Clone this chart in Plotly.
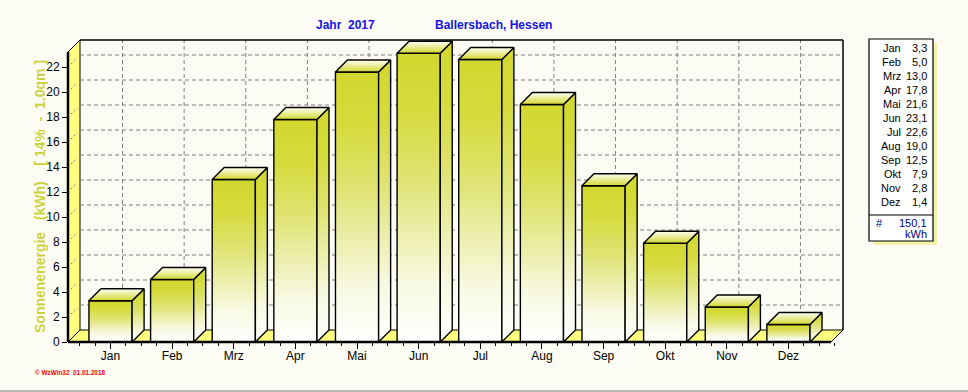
import plotly.graph_objects as go

# ---------------- data ----------------
months = ["Jan", "Feb", "Mrz", "Apr", "Mai", "Jun", "Jul", "Aug", "Sep", "Okt", "Nov", "Dez"]
energy_kwh = [3.3, 5.0, 13.0, 17.8, 21.6, 23.1, 22.6, 19.0, 12.5, 7.9, 2.8, 1.4]
total_kwh = 150.1
y_tick_values = [0, 2, 4, 6, 8, 10, 12, 14, 16, 18, 20, 22]
title_year = "Jahr  2017"
title_place = "Ballersbach, Hessen"
y_title = "Sonnenenergie   (kWh)    [ 14%  -  1.0qm ]"
footer_text = "\u00a9 WzWin32  01.01.2018"
unit_text = "kWh"

# ---------------- geometry / style ----------------
W, H = 968, 392
L, R, T, B = 68, 123, 38, 50
PXU, PYU = 61.63, 12.5          # pixels per unit on x / y
X0 = -0.69                      # front-left edge (data units)
XR = [X0, X0 + (W - L - R) / PXU]
YR = [0, (H - T - B) / PYU]
DX, DY = 12 / PXU, 12 / PYU     # 3D depth offset
XF = X0 + 763 / PXU             # front right edge
X1 = XF + DX                    # back right edge
YF = 290 / PYU                  # front top
Y1 = YF + DY                    # back top
HW = 0.35                       # half bar width

BG = "#FCFCF4"
BAR = "#D2D82E"
WALL = "#FFFF80"
GRID = "#7F7F7F"
FONT = "Liberation Sans, Arial, sans-serif"


def pxp(x):  # data x -> paper
    return (x - XR[0]) / (XR[1] - XR[0])


def pyp(y):  # data y -> paper
    return (y - YR[0]) / (YR[1] - YR[0])


def ppx(p):  # pixel x -> paper
    return (p - L) / (W - L - R)


def ppy(p):  # pixel y -> paper
    return (H - B - p) / (H - T - B)


fig = go.Figure()

front_scale = [[0, "#FFFFFF"], [0.2, "#F8F9E2"], [0.55, "#E0E477"], [0.8, "#D5DB3C"], [1, BAR]]
top_scale = [[0, BAR], [1, "#FFFFF6"]]

for i, v in enumerate(energy_kwh):
    common = dict(mode="lines", fill="toself", line=dict(color="black", width=1.4),
                  hoverinfo="skip", showlegend=False)
    # front face
    fig.add_trace(go.Scatter(x=[i - HW, i + HW, i + HW, i - HW, i - HW], y=[0, 0, v, v, 0],
                             fillgradient=dict(type="vertical", colorscale=front_scale), **common))
    # side face
    fig.add_trace(go.Scatter(x=[i + HW, i + HW + DX, i + HW + DX, i + HW, i + HW],
                             y=[0, DY, v + DY, v, 0],
                             fillgradient=dict(type="vertical", colorscale=front_scale), **common))
    # top face
    fig.add_trace(go.Scatter(x=[i - HW, i + HW, i + HW + DX, i - HW + DX, i - HW],
                             y=[v, v, v + DY, v + DY, v],
                             fillgradient=dict(type="vertical", colorscale=top_scale), **common))

shapes = []
# floor
shapes.append(dict(type="path", xref="x", yref="y", layer="below",
                   path=f"M {X0},0 L {XF},0 L {X1},{DY} L {X0 + DX},{DY} Z",
                   fillcolor=WALL, line=dict(color="black", width=1)))
# left wall
shapes.append(dict(type="path", xref="x", yref="y", layer="below",
                   path=f"M {X0},0 L {X0},{YF} L {X0 + DX},{Y1} L {X0 + DX},{DY} Z",
                   fillcolor=WALL, line=dict(color="black", width=1)))
# horizontal grid on back wall
for v in y_tick_values[1:]:
    shapes.append(dict(type="line", xref="x", yref="y", layer="below",
                       x0=X0 + DX, x1=X1, y0=v + DY, y1=v + DY,
                       line=dict(color=GRID, width=1, dash="4px,3px")))
    shapes.append(dict(type="line", xref="x", yref="y", layer="below",
                       x0=X0 + DX * 0.25, x1=X0 + DX * 0.75, y0=v + DY * 0.25, y1=v + DY * 0.75,
                       line=dict(color=GRID, width=1, dash="2px,2px")))
# vertical grid on back wall
for i in range(len(months)):
    shapes.append(dict(type="line", xref="x", yref="y", layer="below",
                       x0=i + DX, x1=i + DX, y0=DY, y1=Y1,
                       line=dict(color=GRID, width=1, dash="4px,3px")))
# back wall frame (paper refs so edges are not clipped)
shapes.append(dict(type="line", xref="paper", yref="paper", layer="above",
                   x0=pxp(X0 + DX), x1=pxp(X1), y0=pyp(Y1), y1=pyp(Y1),
                   line=dict(color="black", width=1.5)))
shapes.append(dict(type="line", xref="paper", yref="paper", layer="above",
                   x0=pxp(X1), x1=pxp(X1), y0=pyp(DY), y1=pyp(Y1),
                   line=dict(color="black", width=1.5)))
shapes.append(dict(type="line", xref="paper", yref="paper", layer="above",
                   x0=pxp(X0), x1=pxp(X0 + DX), y0=pyp(YF), y1=pyp(Y1),
                   line=dict(color="black", width=1)))
# front axes
shapes.append(dict(type="line", xref="paper", yref="paper", layer="above",
                   x0=pxp(X0), x1=pxp(X0), y0=pyp(0), y1=pyp(YF),
                   line=dict(color="black", width=2.5)))
shapes.append(dict(type="line", xref="paper", yref="paper", layer="above",
                   x0=pxp(X0), x1=pxp(XF), y0=pyp(0), y1=pyp(0),
                   line=dict(color="black", width=2.5)))

# legend box
LX0, LX1, LY0, LY1 = 869, 933, 39, 241
shapes.append(dict(type="rect", xref="paper", yref="paper", layer="above",
                   x0=ppx(LX0 + 4), x1=ppx(LX1 + 4), y0=ppy(LY1 + 4), y1=ppy(LY0 + 4),
                   fillcolor="#F2F2A8", line=dict(width=0)))
shapes.append(dict(type="rect", xref="paper", yref="paper", layer="above",
                   x0=ppx(LX0), x1=ppx(LX1), y0=ppy(LY1), y1=ppy(LY0),
                   fillcolor="white", line=dict(color="black", width=1.2)))
shapes.append(dict(type="line", xref="paper", yref="paper", layer="above",
                   x0=ppx(LX0), x1=ppx(LX1), y0=ppy(215), y1=ppy(215),
                   line=dict(color="black", width=1.2)))
# bottom border line
shapes.append(dict(type="line", xref="paper", yref="paper", layer="above",
                   x0=ppx(0), x1=ppx(W), y0=ppy(391), y1=ppy(391),
                   line=dict(color="#A0A0A0", width=1.5)))

annotations = []


def ann(text, x, y, xanchor="center", size=11, color="black", bold=False, angle=0):
    annotations.append(dict(text=f"<b>{text}</b>" if bold else text, x=ppx(x), y=ppy(y),
                            xref="paper", yref="paper", showarrow=False, xanchor=xanchor,
                            yanchor="middle", textangle=angle,
                            font=dict(family=FONT, size=size, color=color)))


ann(title_year, 345, 25, size=12, color="#1414E6", bold=True)
ann(title_place, 493, 25, size=12, color="#1414E6", bold=True)
ann(y_title, 40, 197, size=14, color="#CDD23A", bold=True, angle=-90)
ann(footer_text, 33, 372, xanchor="left", size=6.4, color="#FF0000", bold=True)

for k, (m, v) in enumerate(zip(months, energy_kwh)):
    yy = 48 + 14 * k
    ann(m, 903, yy, xanchor="right", size=11)
    ann(f"{v:.1f}".replace(".", ","), 929, yy, xanchor="right", size=11)
ann("#", 879, 223, size=11, color="#000080")
ann(f"{total_kwh:.1f}".replace(".", ","), 929, 223, xanchor="right", size=11, color="#000080")
ann(unit_text, 929, 234, xanchor="right", size=11, color="#000080")

fig.update_layout(
    width=W, height=H,
    margin=dict(l=L, r=R, t=T, b=B, pad=0),
    paper_bgcolor=BG, plot_bgcolor=BG,
    showlegend=False,
    shapes=shapes, annotations=annotations,
    xaxis=dict(range=XR, tickmode="array", tickvals=list(range(len(months))), ticktext=months,
               showgrid=False, zeroline=False, showline=False, ticks="outside", ticklen=6,
               tickcolor="black", tickwidth=1, ticklabelstandoff=-3,
               minor=dict(ticks="outside", ticklen=3, tick0=0, dtick=0.25, tickcolor="black",
                          showgrid=False),
               tickfont=dict(family=FONT, size=12, color="black"), fixedrange=True),
    yaxis=dict(range=YR, tickmode="array", tickvals=y_tick_values,
               ticktext=[str(v) for v in y_tick_values],
               showgrid=False, zeroline=False, showline=False, ticks="outside", ticklen=5,
               tickcolor="black", tickwidth=1,
               tickfont=dict(family=FONT, size=12, color="black"), fixedrange=True),
)

fig.write_html("out.html", config={"displayModeBar": False},
               post_script="document.body.style.margin='0';document.body.style.overflow='hidden';")
